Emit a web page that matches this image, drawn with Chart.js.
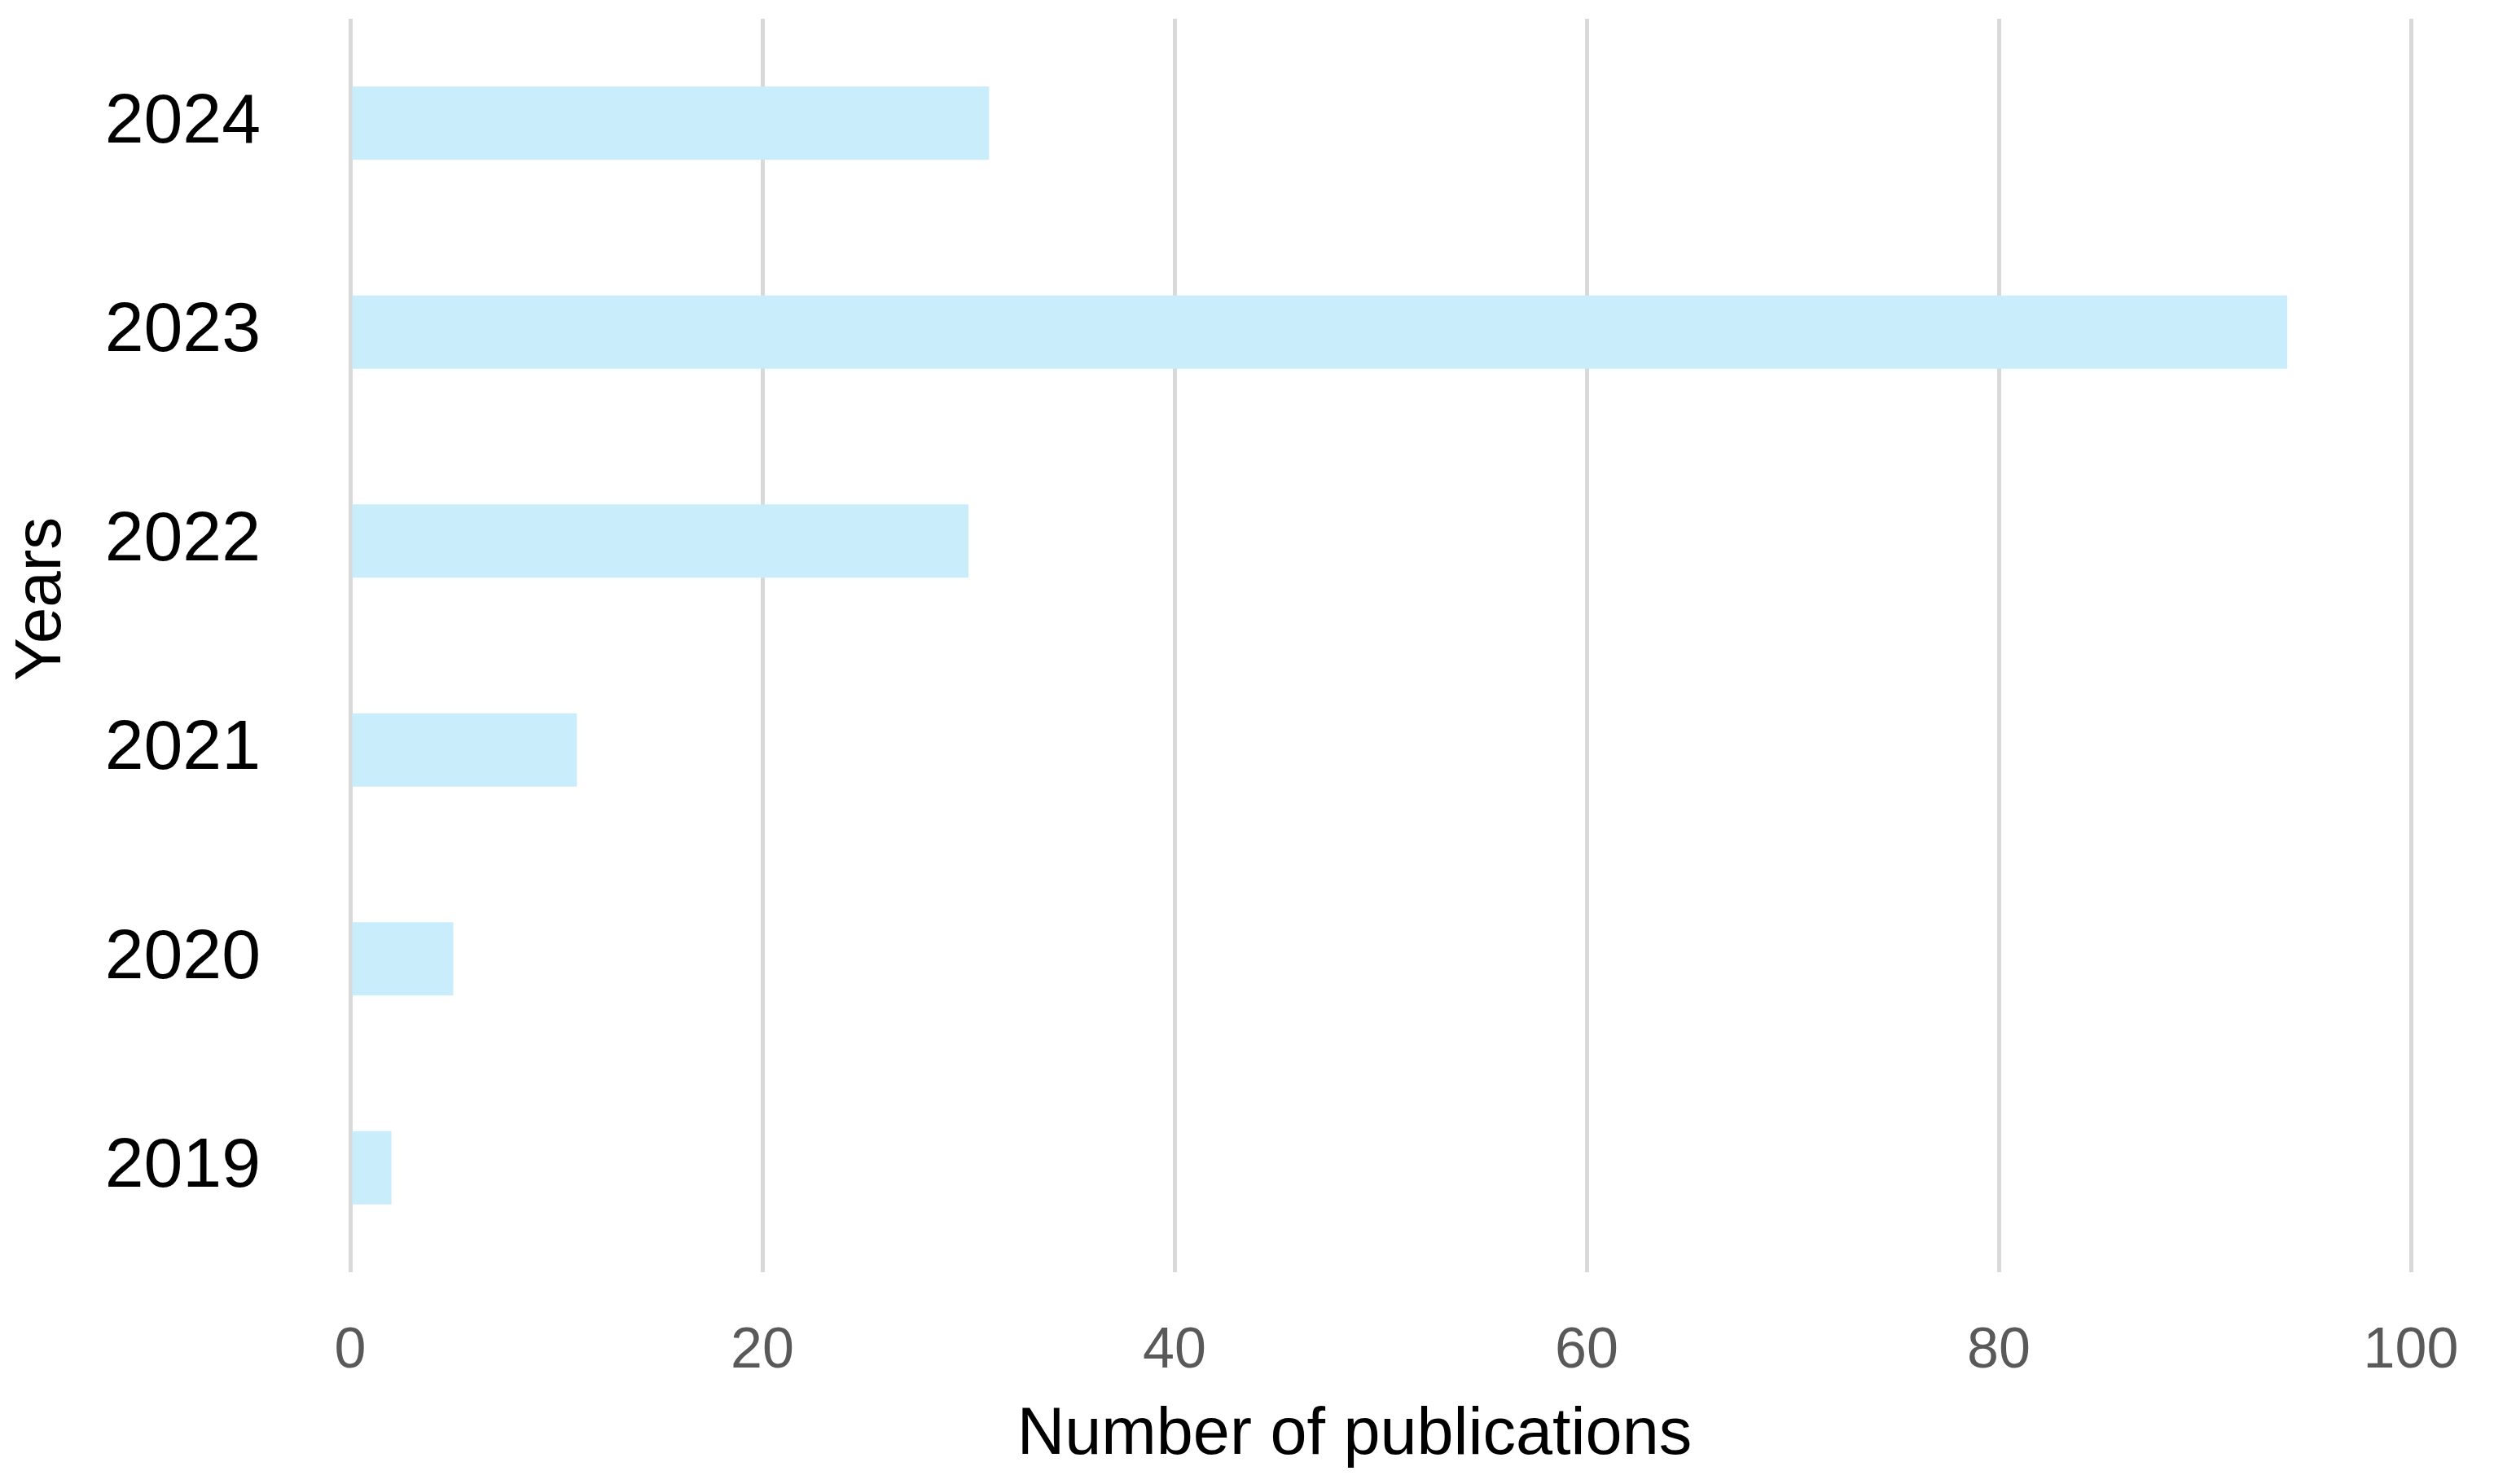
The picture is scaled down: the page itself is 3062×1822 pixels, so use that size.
<!DOCTYPE html>
<html>
<head>
<meta charset="utf-8">
<script src="https://cdn.jsdelivr.net/npm/chart.js@4.4.1/dist/chart.umd.min.js"></script>
<style>
  html, body { margin: 0; padding: 0; background: #ffffff; }
  #wrap { width: 3062px; height: 1822px; }
</style>
</head>
<body>
<div id="wrap"><canvas id="pubChart" width="3062" height="1822"></canvas></div>
<script>
// data
const years = ["2024", "2023", "2022", "2021", "2020", "2019"]
const publications = [31, 94, 30, 11, 5, 2]
const xTicks = [0, 20, 40, 60, 80, 100]

// axis titles sit a little off the axis centre in the original, so draw them by hand
const axisTitles = {
  id: "axisTitles",
  afterDraw(chart) {
    const { ctx, chartArea } = chart
    ctx.save()
    ctx.fillStyle = "#000000"
    ctx.textAlign = "center"
    ctx.textBaseline = "middle"
    ctx.font = "81px 'Liberation Sans'"
    ctx.fillText("Number of publications", (chartArea.left + chartArea.right) / 2 - 32, chartArea.bottom + 201)
    ctx.translate(52, (chartArea.top + chartArea.bottom) / 2 - 57)
    ctx.rotate(-Math.PI / 2)
    ctx.font = "80px 'Liberation Sans'"
    ctx.fillText("Years", 0, 0)
    ctx.restore()
  },
}

const ctx = document.getElementById("pubChart").getContext("2d")
new Chart(ctx, {
  type: "bar",
  data: {
    labels: years,
    datasets: [
      {
        data: publications,
        backgroundColor: "#caedfb",
        borderWidth: 0,
        barPercentage: 0.35,
        categoryPercentage: 1,
      },
    ],
  },
  options: {
    indexAxis: "y",
    responsive: false,
    animation: false,
    layout: {
      padding: { top: 23, right: 102, bottom: 14, left: 0 },
    },
    plugins: {
      legend: { display: false },
      tooltip: { enabled: false },
    },
    scales: {
      x: {
        min: 0,
        max: 100,
        afterBuildTicks: (scale) => {
          scale.ticks = xTicks.map((v) => ({ value: v }))
        },
        afterFit: (scale) => {
          scale.height = 246
          scale.paddingLeft = 0
          scale.paddingRight = 0
        },
        grid: {
          color: "#d9d9d9",
          lineWidth: 5,
          drawTicks: false,
        },
        border: { display: false },
        ticks: {
          padding: 56,
          color: "#595959",
          font: { family: "Liberation Sans", size: 70 },
        },
      },
      y: {
        afterFit: (scale) => {
          // keep the plot edges where the figure has them
          scale.width = 430
          scale.paddingTop = 0
          scale.paddingBottom = 0
        },
        grid: { display: false },
        border: { display: false },
        ticks: {
          padding: 102,
          color: "#000000",
          font: { family: "Liberation Sans", size: 86 },
        },
      },
    },
  },
  plugins: [axisTitles],
})
</script>
</body>
</html>
